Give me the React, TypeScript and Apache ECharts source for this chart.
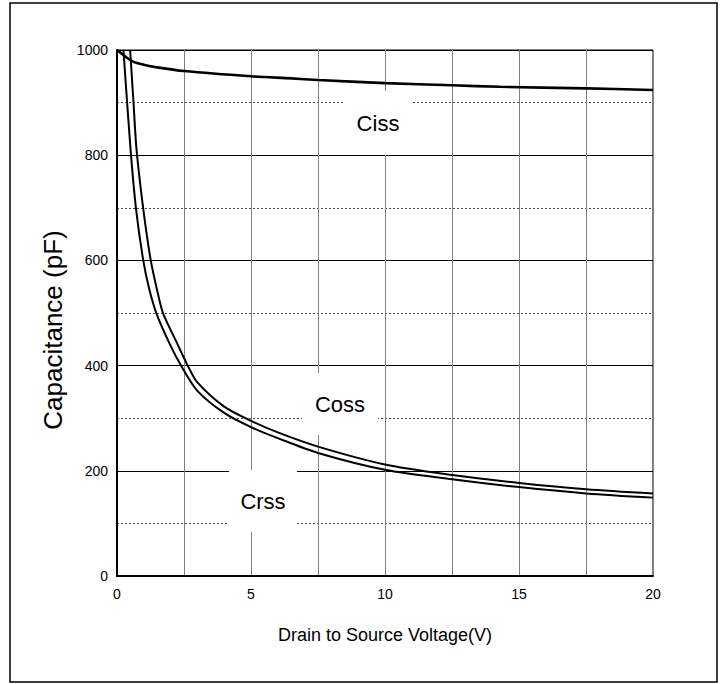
import React, { useEffect, useRef } from "react";
import * as echarts from "echarts";

// Tick labels
const xTickLabels = [0, 5, 10, 15, 20];
const yTickLabels = [0, 200, 400, 600, 800, 1000];

// Series names
const seriesNames = ["Ciss", "Coss", "Crss"];

// Ciss (pF) vs Drain-Source voltage (V)
const cissV = [0, 0.3, 0.6, 1, 1.5, 2.5, 5, 6.5, 7.5, 10, 12.5, 14.3, 17.5, 20];
const cissC = [1000, 988, 978, 972, 967, 960, 950, 946, 943, 937, 933, 930, 927, 924];

// Coss
const cossV = [0.49, 0.61, 0.73, 0.98, 1.26, 1.58, 1.73, 2.2, 2.64, 3, 4, 5, 6, 7.5, 10, 12.5, 15, 17.5, 20];
const cossC = [1000, 905, 810, 698, 600, 525, 498, 447, 400, 368, 322, 295, 273, 246, 212, 192, 177, 165, 157];

// Crss
const crssV = [0.24, 0.5, 0.71, 0.98, 1.2, 1.48, 1.98, 2.39, 3, 4, 5, 6, 7.5, 10, 12.5, 15, 17.5, 20];
const crssC = [1000, 815, 698, 600, 546, 498, 440, 400, 352, 310, 283, 262, 234, 202, 184, 169, 157, 149];

const FONT = '"Liberation Sans", Arial, sans-serif';

function pairs(xs: number[], ys: number[]) {
  return xs.map((x, i) => [x, ys[i]]);
}

export default function App() {
  const ref = useRef<HTMLDivElement>(null);

  useEffect(() => {
    if (!ref.current) return;
    const chart = echarts.init(ref.current, undefined, { renderer: "svg" });

    const labelBox = (name: string, cx: number, cy: number, w: number, h: number) => [
      {
        type: "rect",
        z: 50,
        shape: { x: cx - w / 2, y: cy - h / 2, width: w, height: h },
        style: { fill: "#fff" },
      },
      {
        type: "text",
        z: 51,
        x: cx,
        y: cy,
        style: {
          text: name,
          fill: "#000",
          fontSize: 22,
          fontFamily: FONT,
          align: "center",
          verticalAlign: "middle",
        },
      },
    ];

    chart.setOption({
      animation: false,
      backgroundColor: "#fff",
      grid: {
        left: 117,
        right: 73,
        top: 50,
        bottom: 108,
        show: true,
        borderColor: "#000",
        borderWidth: 1,
        backgroundColor: "transparent",
      },
      xAxis: {
        type: "value",
        min: 0,
        max: 20,
        interval: 2.5,
        name: "Drain to Source Voltage(V)",
        nameLocation: "middle",
        nameGap: 50,
        nameTextStyle: { color: "#000", fontSize: 18, fontFamily: FONT },
        axisLine: { show: true, lineStyle: { color: "#000", width: 2 } },
        axisTick: { show: false },
        axisLabel: {
          color: "#000",
          fontSize: 14,
          fontFamily: FONT,
          margin: 11,
          formatter: (v: number) => (xTickLabels.includes(v) ? String(v) : ""),
        },
        splitLine: { show: true, lineStyle: { color: "#808080", width: 1 } },
      },
      yAxis: [
        {
          type: "value",
          min: 0,
          max: 1000,
          interval: 100,
          name: "Capacitance (pF)",
          nameLocation: "middle",
          nameGap: 40,
          nameTextStyle: {
            color: "#000",
            fontSize: 26,
            fontFamily: FONT,
            padding: [0, 34, 0, 0],
          },
          axisLine: { show: true, lineStyle: { color: "#000", width: 2 } },
          axisTick: { show: false },
          axisLabel: {
            color: "#000",
            fontSize: 14,
            fontFamily: FONT,
            margin: 9,
            formatter: (v: number) => (yTickLabels.includes(v) ? String(v) : ""),
          },
          splitLine: {
            show: true,
            lineStyle: { color: ["transparent", "#444"], width: 1, type: [2, 2] },
          },
        },
        {
          type: "value",
          min: 0,
          max: 1000,
          interval: 200,
          position: "left",
          axisLine: { show: false },
          axisTick: { show: false },
          axisLabel: { show: false },
          splitLine: { show: true, lineStyle: { color: "#000", width: 1 } },
        },
      ],
      series: [
        {
          name: seriesNames[0],
          type: "line",
          data: pairs(cissV, cissC),
          symbol: "none",
          smooth: 0.3,
          lineStyle: { color: "#000", width: 2.6 },
          z: 5,
        },
        {
          name: seriesNames[1],
          type: "line",
          data: pairs(cossV, cossC),
          symbol: "none",
          smooth: 0.3,
          lineStyle: { color: "#000", width: 2 },
          z: 5,
        },
        {
          name: seriesNames[2],
          type: "line",
          data: pairs(crssV, crssC),
          symbol: "none",
          smooth: 0.3,
          lineStyle: { color: "#000", width: 2 },
          z: 5,
        },
      ],
      graphic: [
        {
          type: "rect",
          z: 60,
          shape: { x: 10, y: 3, width: 707, height: 679 },
          style: { fill: "none", stroke: "#000", lineWidth: 1.5 },
        },
        ...labelBox(seriesNames[0], 378, 123, 66, 64),
        ...labelBox(seriesNames[1], 340, 404, 76, 62),
        ...labelBox(seriesNames[2], 263, 501, 68, 62),
      ],
    });

    return () => chart.dispose();
  }, []);

  return (
    <div
      ref={ref}
      style={{ position: "fixed", left: 0, top: 0, width: 726, height: 684, background: "#fff" }}
    />
  );
}
